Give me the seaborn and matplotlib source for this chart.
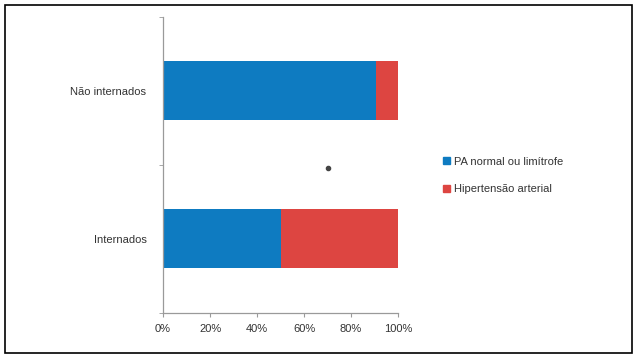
import numpy as np
import pandas as pd
import matplotlib.pyplot as plt
import matplotlib.patches as mpatches
import seaborn as sns

groups = ['Não internados', 'Internados']
pa_normal = [90.5, 50.0]
hipertensao = [9.5, 50.0]
series_names = ['PA normal ou limítrofe', 'Hipertensão arterial']
x_ticks = [0, 20, 40, 60, 80, 100]
x_labels = ['0%', '20%', '40%', '60%', '80%', '100%']

blue = '#0e7bc1'
red = '#dd4541'
axis_gray = '#9a9a9a'

sns.set_style('white')
plt.rcParams['font.family'] = ['Liberation Sans', 'DejaVu Sans']

df = pd.DataFrame({'grupo': groups, 'pa': pa_normal,
                   'total': np.array(pa_normal) + np.array(hipertensao)})

fig = plt.figure(figsize=(6.37, 3.58), dpi=100)
ax = fig.add_axes([0.256, 0.126, 0.369, 0.827])

# stacked bars: total first (red), then the blue part on top
sns.barplot(data=df, y='grupo', x='total', color=red, width=0.4,
            saturation=1, ax=ax, order=groups, linewidth=0)
sns.barplot(data=df, y='grupo', x='pa', color=blue, width=0.4,
            saturation=1, ax=ax, order=groups, linewidth=0)

ax.set_xlim(0, 100)
ax.set_ylim(1.5, -0.5)
ax.set_xticks(x_ticks)
ax.set_xticklabels(x_labels, fontsize=8, color='#333333')
ax.tick_params(axis='y', which='major', length=0, labelsize=8,
               labelcolor='#333333', pad=12)
ax.tick_params(axis='x', bottom=True, length=3, color=axis_gray,
               direction='out', pad=5)
ax.set_yticks([-0.5, 0.5, 1.5], minor=True)
ax.tick_params(axis='y', which='minor', left=True, length=3, color=axis_gray,
               direction='out')
ax.set_xlabel('')
ax.set_ylabel('')
for s in ['top', 'right']:
    ax.spines[s].set_visible(False)
for s in ['left', 'bottom']:
    ax.spines[s].set_color(axis_gray)
    ax.spines[s].set_linewidth(0.9)

# significance mark
ax.plot([70], [0.52], marker='o', markersize=3, color='#444444')

handles = [mpatches.Patch(color=blue, label=series_names[0]),
           mpatches.Patch(color=red, label=series_names[1])]
fig.legend(handles=handles, loc='center left', bbox_to_anchor=(0.68, 0.51),
           frameon=False, fontsize=8, handlelength=0.6, handleheight=0.6,
           handletextpad=0.4, labelspacing=1.6, labelcolor='#333333')

# outer border
fig.patches.append(mpatches.Rectangle((0.008, 0.015), 0.984, 0.97,
                                      transform=fig.transFigure, fill=False,
                                      edgecolor='black', linewidth=1.2))

fig.savefig('out.png', dpi=100)
